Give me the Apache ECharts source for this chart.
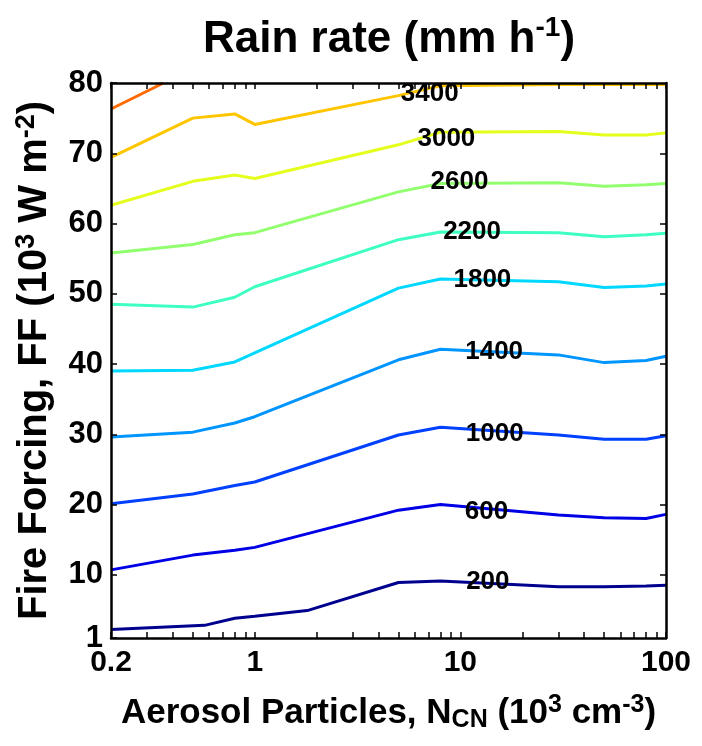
<!DOCTYPE html>
<html>
<head>
<meta charset="utf-8">
<script src="https://cdn.jsdelivr.net/npm/echarts@6/dist/echarts.min.js"></script>
<style>
html, body { margin: 0; padding: 0; background: #fff; }
#chart { width: 702px; height: 746px; }
</style>
</head>
<body>
<div id="chart"></div>
<script>
// contour levels of rain rate
var levels = [200, 600, 1000, 1400, 1800, 2200, 2600, 3000, 3400, 3800];
var levelColors = ['#00008f', '#0000e6', '#0041ff', '#0095ff', '#00d8ff',
                   '#3dffc2', '#91ff6e', '#e4ff1b', '#ffc600', '#ff6a00'];

// aerosol particles (10^3 cm^-3) where the contour vertices sit
var nGrid = [0.2, 0.5, 0.8, 1, 5, 8, 30, 50, 80, 100];
var n200 = [0.2, 0.57, 0.8, 1, 1.8, 5, 8, 30, 50, 80, 100];
var n3800 = [0.2, 0.36];

// fire forcing (10^3 W m^-2) of each contour
var ff200  = [2.2, 2.8, 3.8, 4.1, 4.9, 8.9, 9.1, 8.3, 8.3, 8.4, 8.5];
var ff600  = [10.7, 12.8, 13.5, 13.9, 19.2, 20.0, 18.5, 18.1, 18.0, 18.6];
var ff1000 = [20.1, 21.5, 22.7, 23.2, 29.9, 31.0, 29.9, 29.3, 29.3, 29.8];
var ff1400 = [29.6, 30.3, 31.6, 32.5, 40.6, 42.1, 41.3, 40.2, 40.5, 41.1];
var ff1800 = [39.0, 39.1, 40.3, 41.6, 50.8, 52.1, 51.7, 50.9, 51.1, 51.4];
var ff2200 = [48.5, 48.1, 49.5, 51.0, 57.7, 58.8, 58.7, 58.1, 58.4, 58.6];
var ff2600 = [55.8, 57.0, 58.4, 58.7, 64.5, 65.7, 65.8, 65.3, 65.5, 65.7];
var ff3000 = [62.6, 66.0, 66.9, 66.4, 71.2, 73.0, 73.1, 72.6, 72.6, 72.9];
var ff3400 = [69.4, 75.0, 75.6, 74.1, 78.2, 79.6, 79.8, 79.8, 79.8, 79.8];
var ff3800 = [76.3, 80];

// where the contour labels sit
var labelText = ['200', '600', '1000', '1400', '1800', '2200', '2600', '3000', '3400'];
var labelN  = [13.6, 13.4, 14.7, 14.6, 12.8, 11.4, 9.9, 8.55, 7.1];
var labelFF = [9.0, 19.0, 30.0, 41.7, 52.0, 58.8, 65.9, 72.0, 78.4];

// ticks
var xLabelValues = [0.2, 1, 10, 100];
var xTickValues = [0.2, 0.3, 0.4, 0.5, 0.6, 0.7, 0.8, 0.9, 1, 2, 3, 4, 5, 6, 7, 8, 9,
                   10, 20, 30, 40, 50, 60, 70, 80, 90, 100];
var yLabelValues = [1, 10, 20, 30, 40, 50, 60, 70, 80];
var yRightTicks = [10, 20, 30, 40, 50, 60, 70];

var FONT = '"Liberation Sans", Arial, Helvetica, sans-serif';

function zip(xs, ys) {
    return xs.map(function (x, i) { return [x, ys[i]]; });
}

var lineData = [
    zip(n200, ff200), zip(nGrid, ff600), zip(nGrid, ff1000), zip(nGrid, ff1400),
    zip(nGrid, ff1800), zip(nGrid, ff2200), zip(nGrid, ff2600), zip(nGrid, ff3000),
    zip(nGrid, ff3400), zip(n3800, ff3800)
];

var series = lineData.map(function (d, i) {
    return {
        name: String(levels[i]),
        type: 'line',
        data: d,
        symbol: 'none',
        smooth: false,
        clip: true,
        silent: true,
        z: 2,
        lineStyle: { color: levelColors[i], width: 3 }
    };
});

// contour labels
series.push({
    type: 'scatter',
    silent: true,
    symbolSize: 0,
    itemStyle: { color: '#000', opacity: 1 },
    z: 4,
    data: labelN.map(function (n, i) { return [n, labelFF[i], labelText[i]]; }),
    label: {
        show: true,
        position: 'inside',
        formatter: function (p) { return p.value[2]; },
        color: '#000',
        opacity: 1,
        textBorderWidth: 0,
        fontFamily: FONT,
        fontWeight: 'bold',
        fontSize: 26
    }
});

var axisLine = { show: true, onZero: false, lineStyle: { color: '#000', width: 2.5 } };
var tickStyle = { color: '#000', width: 1.5 };

var myChart = echarts.init(document.getElementById('chart'), null, { renderer: 'canvas' });

myChart.setOption({
    animation: false,
    backgroundColor: '#fff',
    grid: { left: 111, right: 36, top: 83, bottom: 108, containLabel: false },
    graphic: [{
        type: 'text',
        x: 389,
        y: 14,
        style: {
            text: '{a|Rain rate (mm h}{s|-1}{a|)}',
            align: 'center',
            verticalAlign: 'top',
            rich: {
                a: { fontFamily: FONT, fontWeight: 'bold', fontSize: 44, lineHeight: 52, fill: '#000', color: '#000' },
                s: { fontFamily: FONT, fontWeight: 'bold', fontSize: 28, lineHeight: 52, verticalAlign: 'top', padding: [0, 0, 24, 0], fill: '#000', color: '#000' }
            }
        }
    }],
    xAxis: [{
        type: 'log',
        logBase: 10,
        position: 'bottom',
        min: 0.2,
        max: 100,
        z: 10,
        axisLine: axisLine,
        axisTick: { show: true, inside: true, length: 6, customValues: xTickValues, lineStyle: tickStyle },
        axisLabel: {
            show: true,
            customValues: xLabelValues,
            margin: 10,
            color: '#000',
            fontFamily: FONT,
            fontWeight: 'bold',
            fontSize: 30,
            formatter: function (v) { return String(Math.round(v * 10) / 10); }
        },
        splitLine: { show: false },
        name: '{a|Aerosol Particles, N}{b|CN}{a| (10}{s|3}{a| cm}{s|-3}{a|)}',
        nameLocation: 'middle',
        nameGap: 55,
        nameTextStyle: {
            rich: {
                a: { fontFamily: FONT, fontWeight: 'bold', fontSize: 35, lineHeight: 40, color: '#000' },
                b: { fontFamily: FONT, fontWeight: 'bold', fontSize: 25, lineHeight: 40, verticalAlign: 'bottom', padding: [16, 0, 0, 0], color: '#000' },
                s: { fontFamily: FONT, fontWeight: 'bold', fontSize: 25, lineHeight: 40, verticalAlign: 'top', padding: [0, 0, 16, 0], color: '#000' }
            }
        }
    }, {
        type: 'log',
        logBase: 10,
        position: 'top',
        min: 0.2,
        max: 100,
        z: 10,
        axisLine: axisLine,
        axisTick: { show: true, inside: true, length: 6, customValues: xTickValues, lineStyle: tickStyle },
        axisLabel: { show: false },
        splitLine: { show: false }
    }],
    yAxis: [{
        type: 'value',
        position: 'left',
        min: 1,
        max: 80,
        z: 10,
        axisLine: axisLine,
        axisTick: { show: true, inside: true, length: 6, customValues: yLabelValues, lineStyle: tickStyle },
        axisLabel: {
            show: true,
            customValues: yLabelValues,
            margin: 8,
            color: '#000',
            fontFamily: FONT,
            fontWeight: 'bold',
            fontSize: 31
        },
        splitLine: { show: false },
        name: '{a|Fire Forcing, FF (10}{s|3}{a| W m}{s|-2}{a|)}',
        nameLocation: 'middle',
        nameRotate: 90,
        nameGap: 49,
        nameTextStyle: {
            rich: {
                a: { fontFamily: FONT, fontWeight: 'bold', fontSize: 40, lineHeight: 44, color: '#000' },
                s: { fontFamily: FONT, fontWeight: 'bold', fontSize: 27, lineHeight: 44, verticalAlign: 'top', padding: [0, 0, 18, 0], color: '#000' }
            }
        }
    }, {
        type: 'value',
        position: 'right',
        min: 1,
        max: 80,
        z: 10,
        axisLine: axisLine,
        axisTick: { show: true, inside: true, length: 6, customValues: yRightTicks, lineStyle: tickStyle },
        axisLabel: { show: false },
        splitLine: { show: false }
    }],
    series: series
});
</script>
</body>
</html>
